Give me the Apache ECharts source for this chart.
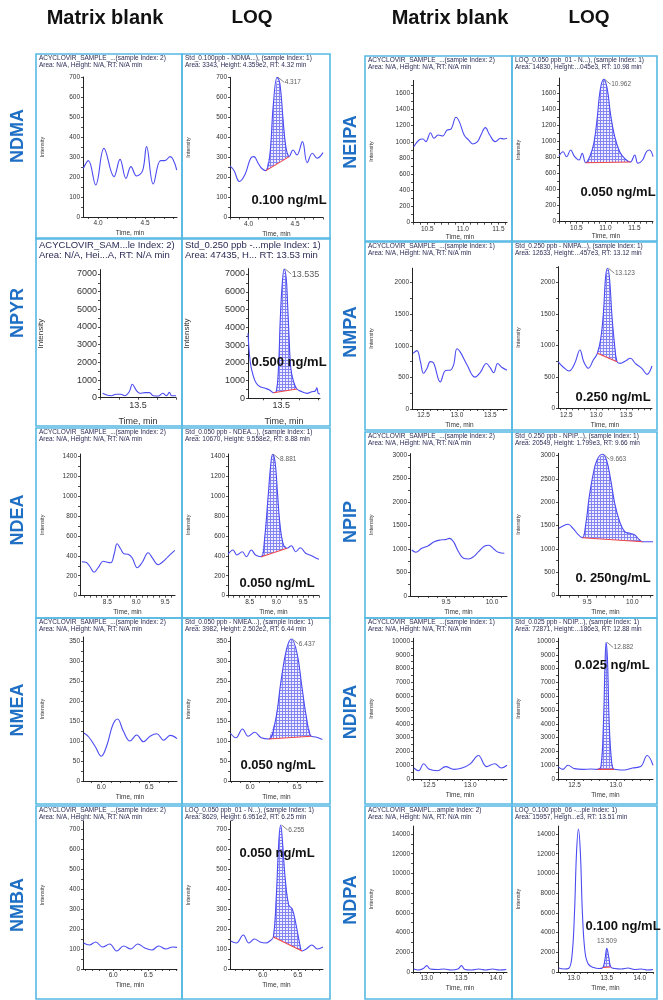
<!DOCTYPE html>
<html><head><meta charset="utf-8">
<script src="https://cdn.jsdelivr.net/npm/echarts@6/dist/echarts.min.js"></script>
<style>html,body{margin:0;padding:0;background:#fff}#c{width:663px;height:1000px}</style>
</head><body><div id="c"></div>
<script>
// ---------------- DATA ----------------
const compoundsLeft = ['NDMA', 'NPYR', 'NDEA', 'NMEA', 'NMBA'];
const compoundsRight = ['NEIPA', 'NMPA', 'NPIP', 'NDIPA', 'NDPA'];
const columnTitles = ['Matrix blank', 'LOQ', 'Matrix blank', 'LOQ'];

const yTicks700 = [0, 100, 200, 300, 400, 500, 600, 700];
const yTicks1600 = [0, 200, 400, 600, 800, 1000, 1200, 1400, 1600];
const yTicks7000 = [0, 1000, 2000, 3000, 4000, 5000, 6000, 7000];
const yTicks2000 = [0, 500, 1000, 1500, 2000];
const yTicks1400 = [0, 200, 400, 600, 800, 1000, 1200, 1400];
const yTicks3000 = [0, 500, 1000, 1500, 2000, 2500, 3000];
const yTicks350 = [0, 50, 100, 150, 200, 250, 300, 350];
const yTicks10000 = [0, 1000, 2000, 3000, 4000, 5000, 6000, 7000, 8000, 9000, 10000];
const yTicks14000 = [0, 2000, 4000, 6000, 8000, 10000, 12000, 14000];
const xTicksNdma = [4.0, 4.5];
const xTicksNeipa = [10.5, 11.0, 11.5];
const xTicksNpyr = [13.5];
const xTicksNmpa = [12.5, 13.0, 13.5];
const xTicksNdea = [8.5, 9.0, 9.5];
const xTicksNpip = [9.5, 10.0];
const xTicksNmea = [6.0, 6.5];
const xTicksNdipa = [12.5, 13.0];
const xTicksNmba = [6.0, 6.5];
const xTicksNdpa = [13.0, 13.5, 14.0];

const ndmaBlank = [[3.843,243],[3.897,282],[3.975,160],[4.063,343],[4.170,202],[4.234,288],[4.297,193],[4.350,252],[4.410,205],[4.474,232],[4.516,352],[4.587,165],[4.665,282],[4.710,282],[4.766,302],[4.837,235]];
const ndmaLoq = [[3.80,258],[3.843,235],[3.90,180],[3.96,213],[4.022,296],[4.057,304],[4.103,271],[4.14,246],[4.186,234],[4.23,321],[4.264,553],[4.307,700],[4.336,670],[4.371,487],[4.40,354],[4.436,304],[4.478,337],[4.52,312],[4.579,379],[4.63,274],[4.686,321],[4.736,296],[4.80,324]];
const neipaBlank = [[10.31,940],[10.385,1023],[10.44,1035],[10.48,1002],[10.546,1113],[10.593,1044],[10.654,1085],[10.716,1072],[10.78,1147],[10.83,1155],[10.905,1304],[10.95,1250],[11.018,1085],[11.08,1023],[11.14,974],[11.206,1002],[11.254,1085],[11.316,1175],[11.377,1085],[11.457,1002],[11.528,1044],[11.575,1035],[11.62,1044]];
const neipaLoq = [[10.2,818],[10.27,872],[10.33,810],[10.40,893],[10.47,810],[10.545,769],[10.60,852],[10.66,735],[10.73,810],[10.80,977],[10.855,1267],[10.91,1641],[10.97,1774],[11.03,1662],[11.086,1351],[11.16,1059],[11.246,872],[11.33,790],[11.43,744],[11.505,831],[11.56,728],[11.64,769],[11.707,872],[11.76,893],[11.82,810]];
const npyrBlank = [[13.314,249],[13.335,151],[13.36,113],[13.384,192],[13.41,192],[13.43,113],[13.454,340],[13.47,758],[13.49,434],[13.51,249],[13.537,287],[13.56,287],[13.58,113],[13.607,94],[13.63,249],[13.65,113],[13.665,300],[13.677,113],[13.70,113]];
const npyrLoq = [[13.32,3660],[13.332,2060],[13.347,1312],[13.365,845],[13.386,653],[13.414,563],[13.437,467],[13.458,315],[13.473,372],[13.485,1690],[13.495,4504],[13.505,6379],[13.516,7280],[13.527,6756],[13.534,5440],[13.542,3564],[13.552,1690],[13.567,935],[13.585,524],[13.612,372],[13.64,280],[13.666,372],[13.684,411],[13.693,597],[13.70,280],[13.71,242]];
const nmpaBlank = [[12.34,880],[12.40,925],[12.45,760],[12.50,565],[12.55,640],[12.60,750],[12.65,730],[12.75,430],[12.83,610],[12.90,615],[12.95,700],[13.00,955],[13.05,900],[13.15,700],[13.27,505],[13.35,580],[13.44,720],[13.50,650],[13.55,575],[13.61,720],[13.67,660],[13.75,615]];
const nmpaLoq = [[12.36,742],[12.44,662],[12.545,594],[12.64,716],[12.726,928],[12.79,742],[12.866,637],[12.95,769],[13.018,876],[13.075,1115],[13.12,1538],[13.153,2070],[13.186,2229],[13.22,2070],[13.26,1485],[13.30,1060],[13.345,742],[13.40,716],[13.485,753],[13.57,796],[13.65,716],[13.76,637],[13.85,541],[13.89,583],[13.93,673]];
const ndeaBlank = [[8.06,340],[8.13,335],[8.20,290],[8.27,235],[8.34,280],[8.43,345],[8.50,335],[8.56,330],[8.62,420],[8.67,520],[8.73,470],[8.79,420],[8.86,415],[8.93,380],[9.02,280],[9.10,330],[9.21,430],[9.28,380],[9.38,310],[9.46,340],[9.55,390],[9.67,455]];
const ndeaLoq = [[8.093,415],[8.187,458],[8.262,408],[8.36,441],[8.438,391],[8.53,458],[8.61,408],[8.72,391],[8.78,575],[8.843,976],[8.894,1310],[8.93,1417],[8.975,1343],[9.02,1042],[9.063,741],[9.125,525],[9.20,475],[9.282,501],[9.363,441],[9.45,481],[9.55,425],[9.66,401],[9.75,375],[9.80,365]];
const npipBlank = [[9.125,979],[9.17,930],[9.234,1015],[9.306,1071],[9.37,1156],[9.435,1192],[9.49,1200],[9.537,1227],[9.58,1156],[9.635,943],[9.69,802],[9.745,787],[9.80,837],[9.854,943],[9.916,1060],[9.965,1080],[10.02,1000],[10.07,930],[10.135,908]];
const npipLoq = [[9.19,1444],[9.235,1494],[9.29,1530],[9.345,1444],[9.40,1316],[9.45,1243],[9.485,1515],[9.522,2087],[9.566,2587],[9.61,2908],[9.67,3030],[9.714,2908],[9.758,2516],[9.805,1980],[9.86,1586],[9.915,1371],[9.97,1337],[10.026,1300],[10.08,1193],[10.11,1157],[10.16,1157],[10.227,1157]];
const nmeaBlank = [[5.82,120],[5.87,110],[5.94,85],[6.00,62],[6.06,90],[6.12,140],[6.17,155],[6.23,125],[6.30,100],[6.37,115],[6.44,98],[6.51,112],[6.58,118],[6.65,102],[6.72,114],[6.79,106]];
const nmeaLoq = [[5.79,120],[5.85,108],[5.92,130],[5.98,112],[6.05,122],[6.12,108],[6.20,105],[6.27,150],[6.33,250],[6.39,330],[6.44,355],[6.50,320],[6.55,240],[6.60,160],[6.65,112],[6.70,110],[6.77,104]];
const ndipaBlank = [[12.31,800],[12.37,600],[12.43,1100],[12.50,700],[12.60,600],[12.70,900],[12.80,700],[12.90,800],[13.00,1100],[13.10,1700],[13.20,900],[13.30,1100],[13.38,800],[13.45,1000]];
const ndipaLoq = [[12.30,900],[12.36,700],[12.42,1000],[12.50,750],[12.60,700],[12.70,720],[12.78,700],[12.82,900],[12.85,4000],[12.87,8500],[12.882,9900],[12.90,8500],[12.92,4000],[12.95,1200],[12.98,700],[13.10,650],[13.20,800],[13.30,900],[13.38,1700],[13.45,1000]];
const nmbaBlank = [[5.58,130],[5.66,120],[5.75,135],[5.85,110],[5.95,125],[6.05,90],[6.15,115],[6.25,100],[6.35,125],[6.45,105],[6.55,95],[6.65,115],[6.75,100],[6.85,110],[6.91,108]];
const nmbaLoq = [[5.54,140],[5.62,130],[5.72,170],[5.80,130],[5.88,150],[5.96,135],[6.04,130],[6.10,140],[6.15,160],[6.19,350],[6.23,650],[6.255,720],[6.28,640],[6.32,450],[6.37,320],[6.42,300],[6.47,230],[6.52,140],[6.56,90],[6.62,100],[6.70,120],[6.78,100],[6.86,110]];
const ndpaBlank = [[12.81,300],[12.88,200],[12.95,350],[13.00,650],[13.05,300],[13.15,250],[13.25,300],[13.35,200],[13.45,300],[13.50,650],[13.55,250],[13.65,200],[13.75,300],[13.85,200],[13.95,300],[14.05,200],[14.15,250]];
const ndpaLoq = [[12.77,400],[12.85,300],[12.92,350],[12.97,1500],[13.01,6000],[13.04,12000],[13.07,14500],[13.10,12000],[13.13,6000],[13.17,2000],[13.22,800],[13.30,450],[13.38,350],[13.44,450],[13.47,1200],[13.50,2400],[13.53,1500],[13.56,500],[13.62,350],[13.72,300],[13.82,400],[13.92,250],[14.02,300],[14.12,200],[14.20,250]];

const ndmaBase = [[4.186,234],[4.436,304]];   const ndmaApex = [4.307,700,'4.317'];
const neipaBase = [[10.66,735],[11.43,744]];  const neipaApex = [10.97,1774,'10.962'];
const npyrBase = [[13.458,315],[13.585,524]]; const npyrApex = [13.516,7280,'13.535'];
const nmpaBase = [[13.018,876],[13.345,742]]; const nmpaApex = [13.186,2229,'13.123'];
const ndeaBase = [[8.72,391],[9.20,475]];     const ndeaApex = [8.93,1417,'8.881'];
const npipBase = [[9.45,1243],[10.11,1157]];  const npipApex = [9.67,3030,'9.663'];
const nmeaBase = [[6.20,105],[6.65,112]];     const nmeaApex = [6.44,355,'6.437'];
const ndipaBase = [[12.78,700],[12.98,700]];  const ndipaApex = [12.882,9900,'12.882'];
const nmbaBase = [[6.15,160],[6.56,90]];      const nmbaApex = [6.255,720,'6.255'];
const ndpaBase = [[13.44,450],[13.56,500]];   const ndpaApex = [13.50,2400,'13.509'];

const hNdmaB = ['ACYCLOVIR_SAMPLE_...(sample Index: 2)', 'Area: N/A, Height: N/A, RT: N/A min'];
const hNdmaL = ['Std_0.100ppb - NDMA...), (sample Index: 1)', 'Area: 3343, Height: 4.359e2, RT: 4.32 min'];
const hNeipaB = ['ACYCLOVIR_SAMPLE_...(sample Index: 2)', 'Area: N/A, Height: N/A, RT: N/A min'];
const hNeipaL = ['LOQ_0.050 ppb_01 - N...), (sample Index: 1)', 'Area: 14830, Height:...045e3, RT: 10.98 min'];
const hNpyrB = ['ACYCLOVIR_SAM...le Index: 2)', 'Area: N/A, Hei...A, RT: N/A min'];
const hNpyrL = ['Std_0.250 ppb -...mple Index: 1)', 'Area: 47435, H... RT: 13.53 min'];
const hNmpaB = ['ACYCLOVIR_SAMPLE_...(sample Index: 1)', 'Area: N/A, Height: N/A, RT: N/A min'];
const hNmpaL = ['Std_0.250 ppb - NMPA...), (sample Index: 1)', 'Area: 12633, Height:...457e3, RT: 13.12 min'];
const hNdeaB = ['ACYCLOVIR_SAMPLE_...(sample Index: 2)', 'Area: N/A, Height: N/A, RT: N/A min'];
const hNdeaL = ['Std_0.050 ppb - NDEA...), (sample Index: 1)', 'Area: 10670, Height: 9.558e2, RT: 8.88 min'];
const hNpipB = ['ACYCLOVIR_SAMPLE_...(sample Index: 2)', 'Area: N/A, Height: N/A, RT: N/A min'];
const hNpipL = ['Std_0.250 ppb - NPIP...), (sample Index: 1)', 'Area: 20549, Height: 1.799e3, RT: 9.66 min'];
const hNmeaB = ['ACYCLOVIR_SAMPLE_...(sample Index: 2)', 'Area: N/A, Height: N/A, RT: N/A min'];
const hNmeaL = ['Std_0.050 ppb - NMEA...), (sample Index: 1)', 'Area: 3982, Height: 2.502e2, RT: 6.44 min'];
const hNdipaB = ['ACYCLOVIR_SAMPLE_...(sample Index: 1)', 'Area: N/A, Height: N/A, RT: N/A min'];
const hNdipaL = ['Std_0.025 ppb - NDIP...), (sample Index: 1)', 'Area: 72871, Height:...186e3, RT: 12.88 min'];
const hNmbaB = ['ACYCLOVIR_SAMPLE_...(sample Index: 2)', 'Area: N/A, Height: N/A, RT: N/A min'];
const hNmbaL = ['LOQ_0.050 ppb_01 - N...), (sample Index: 1)', 'Area: 8629, Height: 6.951e2, RT: 6.25 min'];
const hNdpaB = ['ACYCLOVIR_SAMPL...ample Index: 2)', 'Area: N/A, Height: N/A, RT: N/A min'];
const hNdpaL = ['LOQ_0.100 ppb_06 -...ple Index: 1)', 'Area: 15957, Heigh...e3, RT: 13.51 min'];

const concNdma = '0.100 ng/mL', concNeipa = '0.050 ng/mL', concNpyr = '0.500 ng/mL', concNmpa = '0.250 ng/mL',
      concNdea = '0.050 ng/mL', concNpip = '0. 250ng/mL', concNmea = '0.050 ng/mL', concNdipa = '0.025 ng/mL',
      concNmba = '0.050 ng/mL', concNdpa = '0.100 ng/mL';

// ---------------- LAYOUT ----------------
const panels = [
 {d:ndmaBlank, h:hNdmaB, box:[36,54,146,185], x:[3.84,4.84], xl:xTicksNdma, px:[83,177], py:[217,700,77], yMax:700, yl:yTicks700},
 {d:ndmaLoq, h:hNdmaL, box:[182,54,148,185], x:[3.80,4.80], xl:xTicksNdma, px:[230,323], py:[217.5,700,77.3], yMax:700, yl:yTicks700, base:ndmaBase, apex:ndmaApex, conc:[concNdma,289,200]},
 {d:neipaBlank, h:hNeipaB, box:[365,56,147,185], x:[10.3,11.62], xl:xTicksNeipa, px:[413,507], py:[222.7,1600,93.3], yMax:1760, yl:yTicks1600, tg:11},
 {d:neipaLoq, h:hNeipaL, box:[512,56,145,185], x:[10.2,11.82], xl:xTicksNeipa, px:[559,653], py:[221.7,1600,93.3], yMax:1790, yl:yTicks1600, tg:11, base:neipaBase, apex:neipaApex, conc:[concNeipa,618,192]},
 {d:npyrBlank, h:hNpyrB, box:[36,238,146,188], x:[13.3,13.7], xl:xTicksNpyr, px:[100,176], py:[397.7,7000,274], yMax:7250, yl:yTicks7000, big:true},
 {d:npyrLoq, h:hNpyrL, box:[182,238,148,188], x:[13.32,13.71], xl:xTicksNpyr, px:[248,320], py:[398.3,7000,274], yMax:7300, yl:yTicks7000, big:true, base:npyrBase, apex:npyrApex, conc:[concNpyr,289,362]},
 {d:nmpaBlank, h:hNmpaB, box:[365,242,147,188], x:[12.326,13.75], xl:xTicksNmpa, px:[412,507], py:[409,2000,282.7], yMax:2230, yl:yTicks2000},
 {d:nmpaLoq, h:hNmpaL, box:[512,242,145,188], x:[12.36,13.93], xl:xTicksNmpa, px:[558,652], py:[408.3,2000,282.7], yMax:2255, yl:yTicks2000, base:nmpaBase, apex:nmpaApex, conc:[concNmpa,613,397]},
 {d:ndeaBlank, h:hNdeaB, box:[36,428,146,190], x:[8.027,9.673], xl:xTicksNdea, px:[80,175], py:[595.7,1400,456], yMax:1420, yl:yTicks1400},
 {d:ndeaLoq, h:hNdeaL, box:[182,428,148,190], x:[8.093,9.80], xl:xTicksNdea, px:[228,319], py:[595.7,1400,456], yMax:1420, yl:yTicks1400, base:ndeaBase, apex:ndeaApex, conc:[concNdea,277,583]},
 {d:npipBlank, h:hNpipB, box:[365,432,147,186], x:[9.106,10.164], xl:xTicksNpip, px:[410,507], py:[596,3000,455], yMax:3030, yl:yTicks3000},
 {d:npipLoq, h:hNpipL, box:[512,432,145,186], x:[9.18,10.227], xl:xTicksNpip, px:[558,653], py:[595.7,3000,455.7], yMax:3050, yl:yTicks3000, base:npipBase, apex:npipApex, conc:[concNpip,613,578]},
 {d:nmeaBlank, h:hNmeaB, box:[36,618,146,186], x:[5.81,6.79], xl:xTicksNmea, px:[83,177], py:[781,350,641], yMax:360, yl:yTicks350},
 {d:nmeaLoq, h:hNmeaL, box:[182,618,148,186], x:[5.787,6.777], xl:xTicksNmea, px:[230,323], py:[781,350,641], yMax:360, yl:yTicks350, base:nmeaBase, apex:nmeaApex, conc:[concNmea,278,765]},
 {d:ndipaBlank, h:hNdipaB, box:[365,618,147,186], x:[12.3,13.45], xl:xTicksNdipa, px:[413,507], py:[779,10000,641], yMax:10200, yl:yTicks10000},
 {d:ndipaLoq, h:hNdipaL, box:[512,618,145,186], x:[12.3,13.45], xl:xTicksNdipa, px:[558,653], py:[779,10000,641], yMax:10200, yl:yTicks10000, base:ndipaBase, apex:ndipaApex, conc:[concNdipa,612,665]},
 {d:nmbaBlank, h:hNmbaB, box:[36,806,146,193], x:[5.57,6.91], xl:xTicksNmba, px:[83,177], py:[969,700,829], yMax:740, yl:yTicks700},
 {d:nmbaLoq, h:hNmbaL, box:[182,806,148,193], x:[5.53,6.86], xl:xTicksNmba, px:[230,323], py:[969,700,829], yMax:740, yl:yTicks700, base:nmbaBase, apex:nmbaApex, conc:[concNmba,277,853]},
 {d:ndpaBlank, h:hNdpaB, box:[365,806,147,193], x:[12.8,14.16], xl:xTicksNdpa, px:[413,507], py:[972,14000,834], yMax:14800, yl:yTicks14000},
 {d:ndpaLoq, h:hNdpaL, box:[512,806,145,193], x:[12.76,14.2], xl:xTicksNdpa, px:[558,653], py:[972,14000,834], yMax:14800, yl:yTicks14000, base:ndpaBase, apex:ndpaApex, conc:[concNdpa,623,926], apexTop:true}
];

// ---------------- BUILD ----------------
const FONT = '"Liberation Sans", Arial, sans-serif';
const lineBlue = '#4b4bf2';
function hatch() {
  const c = document.createElement('canvas'); c.width = 3; c.height = 3;
  const g = c.getContext('2d');
  g.fillStyle = '#eeeeff'; g.fillRect(0, 0, 3, 3);
  g.fillStyle = '#8585f2'; g.fillRect(0, 0, 3, 1); g.fillRect(0, 0, 1, 3);
  return c;
}
const pat = {image: hatch(), repeat: 'repeat'};

const grids = [], xAxes = [], yAxes = [], series = [], graphics = [];
panels.forEach((p, i) => {
  const pxPerVal = (p.py[0] - p.py[2]) / p.py[1];
  const top = p.py[0] - p.yMax * pxPerVal;
  grids.push({left: p.px[0], top: top, width: p.px[1] - p.px[0], height: p.py[0] - top});
  const fs = p.big ? 9 : 6.5;
  const xt = [];
  for (let v = Math.ceil(p.x[0] * 10 - 1e-6); v <= Math.floor(p.x[1] * 10 + 1e-6); v++) xt.push(v / 10);
  const step = p.yl[1] - p.yl[0];
  const yt = [];
  for (let v = 0; v <= p.yMax + 1e-6; v += step / 2) yt.push(v);
  xAxes.push({type: 'value', gridIndex: i, min: p.x[0], max: p.x[1],
    axisLine: {onZero: false, lineStyle: {color: '#222', width: 1}},
    axisTick: {customValues: xt, length: 2, lineStyle: {color: '#222', width: 0.8}},
    axisLabel: {customValues: p.xl, formatter: v => v.toFixed(1), fontSize: fs, color: '#333', margin: 3, fontFamily: FONT},
    splitLine: {show: false},
    name: 'Time, min', nameLocation: 'middle', nameGap: p.tg || (p.big ? 19 : 13),
    nameTextStyle: {fontSize: p.big ? 9 : 6.5, color: '#333', fontFamily: FONT}});
  yAxes.push({type: 'value', gridIndex: i, min: 0, max: p.yMax,
    axisLine: {show: true, lineStyle: {color: '#222', width: 1}},
    axisTick: {show: true, customValues: yt, length: 2, lineStyle: {color: '#222', width: 0.8}},
    axisLabel: {customValues: p.yl, formatter: v => String(v), fontSize: fs, color: '#333', margin: 3, fontFamily: FONT},
    splitLine: {show: false},
    name: 'Intensity', nameLocation: 'middle', nameRotate: 90, nameGap: p.px[0] - p.box[0] - 9,
    nameTextStyle: {fontSize: p.big ? 8 : 5.5, color: '#333', fontFamily: FONT}});
  series.push({type: 'line', xAxisIndex: i, yAxisIndex: i, data: p.d, smooth: 0.4, symbol: 'none',
    lineStyle: {color: lineBlue, width: 1.1}, z: 3, silent: true});
  if (p.base) {
    const b0 = p.base[0], b1 = p.base[1];
    const pts = p.d.filter(d => d[0] >= b0[0] - 1e-9 && d[0] <= b1[0] + 1e-9);
    const apex = p.apex, top = !!p.apexTop;
    series.push({type: 'custom', xAxisIndex: i, yAxisIndex: i, data: [pts[0]], z: 2, silent: true,
      renderItem: (params, api) => {
        const poly = pts.map(d => api.coord(d));
        poly.push(api.coord(b1)); poly.push(api.coord(b0));
        const a = api.coord([apex[0], apex[1]]);
        const children = [{type: 'polygon', shape: {points: poly}, style: {fill: pat, stroke: null}}];
        if (!top) children.push({type: 'line', z2: 5, shape: {x1: a[0] + 1, y1: a[1], x2: a[0] + 7, y2: a[1] + 5}, style: {stroke: '#555', lineWidth: 0.7}});
        return {type: 'group', children: children};
      }});
    series.push({type: 'line', xAxisIndex: i, yAxisIndex: i, data: p.base, symbol: 'none',
      lineStyle: {color: '#f04848', width: 1.1}, z: 4, silent: true});
    series.push({type: 'scatter', xAxisIndex: i, yAxisIndex: i, data: [[apex[0], apex[1]]], symbolSize: 1,
      itemStyle: {color: 'rgba(0,0,0,0)'}, z: 5, silent: true,
      label: {show: true, formatter: apex[2], position: top ? 'top' : 'right', distance: top ? 3 : 7,
        offset: top ? [0, 0] : [0, 5], fontSize: p.big ? 9 : 6.5, color: '#333', fontFamily: FONT}});
    graphics.push({type: 'text', z: 20, style: {text: p.conc[0], x: p.conc[1], y: p.conc[2], textAlign: 'center', textVerticalAlign: 'middle',
      font: 'bold 13px ' + FONT, fill: '#111'}});
  }
  graphics.push({type: 'rect', z: 10, shape: {x: p.box[0], y: p.box[1], width: p.box[2], height: p.box[3]},
    style: {fill: 'none', stroke: '#55b9e3', lineWidth: 1.6}});
  const hf = p.big ? 9.5 : 6.5;
  graphics.push({type: 'text', z: 11, style: {text: p.h[0], x: p.box[0] + 3, y: p.box[1] + (p.big ? 7 : 4.5), textVerticalAlign: 'middle', font: hf + 'px ' + FONT, fill: '#2b2b55'}});
  graphics.push({type: 'text', z: 11, style: {text: p.h[1], x: p.box[0] + 3, y: p.box[1] + (p.big ? 17 : 11), textVerticalAlign: 'middle', font: hf + 'px ' + FONT, fill: '#2b2b55'}});
});

[[105, 18, 20], [252, 18, 19], [450, 18, 20], [589, 18, 19]].forEach((c, k) => {
  graphics.push({type: 'text', z: 11, style: {text: columnTitles[k], x: c[0], y: c[1], textAlign: 'center', textVerticalAlign: 'middle', font: 'bold ' + c[2] + 'px ' + FONT, fill: '#111'}});
});
const rowLeftY = [136, 313, 520, 710, 905], rowRightY = [142, 332, 522, 712, 900];
compoundsLeft.forEach((n, k) => graphics.push({type: 'text', z: 11, x: 18, y: rowLeftY[k], rotation: Math.PI / 2,
  style: {text: n, x: 0, y: 0, textAlign: 'center', textVerticalAlign: 'middle', font: 'bold 18px ' + FONT, fill: '#1f6fc5'}}));
compoundsRight.forEach((n, k) => graphics.push({type: 'text', z: 11, x: 351, y: rowRightY[k], rotation: Math.PI / 2,
  style: {text: n, x: 0, y: 0, textAlign: 'center', textVerticalAlign: 'middle', font: 'bold 18px ' + FONT, fill: '#1f6fc5'}}));

const chart = echarts.init(document.getElementById('c'), null, {renderer: 'canvas'});
chart.setOption({
  animation: false,
  backgroundColor: '#fff',
  textStyle: {fontFamily: FONT},
  grid: grids, xAxis: xAxes, yAxis: yAxes, series: series,
  graphic: {elements: graphics}
});
</script></body></html>
